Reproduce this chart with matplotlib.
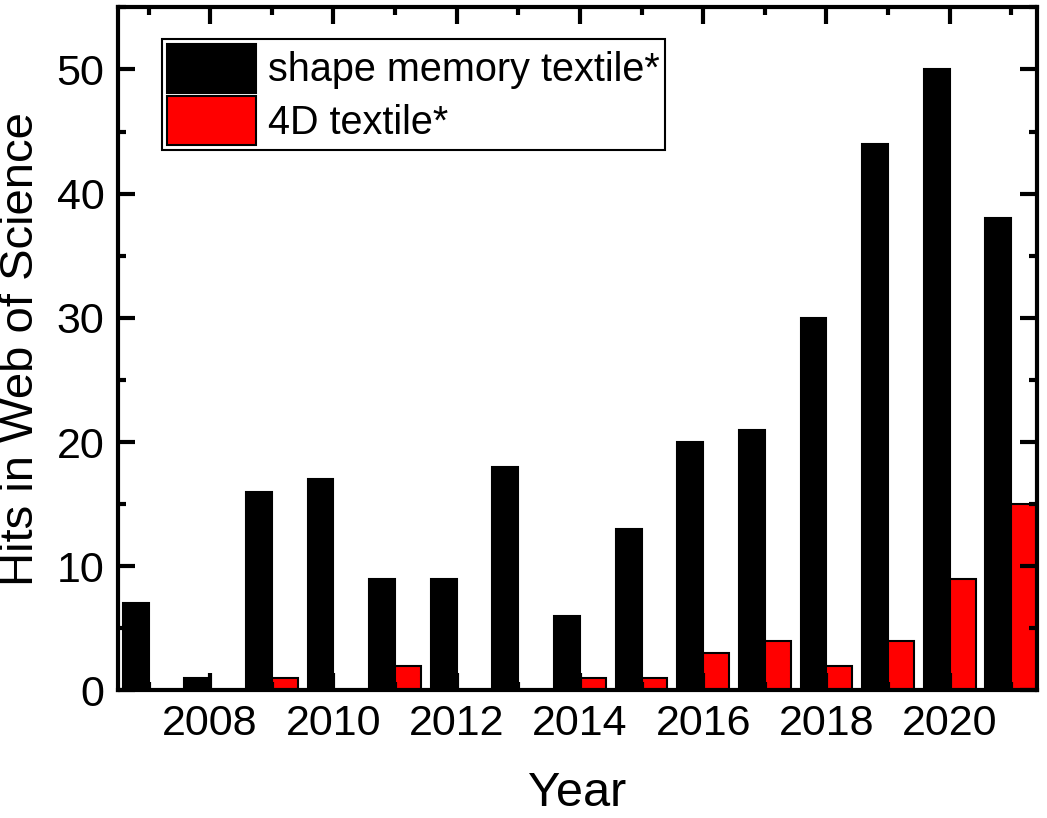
import numpy as np
import matplotlib.pyplot as plt
from matplotlib.ticker import MultipleLocator

plt.rcParams['font.family'] = ['Liberation Sans', 'DejaVu Sans']

years = [2007, 2008, 2009, 2010, 2011, 2012, 2013, 2014,
         2015, 2016, 2017, 2018, 2019, 2020, 2021]
shape_memory = [7, 1, 16, 17, 9, 9, 18, 6, 13, 20, 21, 30, 44, 50, 38]
textile_4d = [0, 0, 1, 0, 2, 0, 0, 1, 1, 3, 4, 2, 4, 9, 15]
labels = ['shape memory textile*', '4D textile*']

x = np.array(years)
width = 0.42

fig = plt.figure(figsize=(10.47, 8.18), dpi=100)
ax = fig.add_axes([0.113, 0.156, 0.877, 0.835])

ax.bar(x - width / 2, shape_memory, width, color='black', edgecolor='black',
       linewidth=1.5, label=labels[0])
ax.bar(x + width / 2, textile_4d, width, color='#ff0000', edgecolor='black',
       linewidth=1.5, label=labels[1])

ax.set_xlim(2006.51, 2021.41)
ax.set_ylim(0, 55)

ax.xaxis.set_major_locator(MultipleLocator(2))
ax.xaxis.set_minor_locator(MultipleLocator(1))
ax.yaxis.set_major_locator(MultipleLocator(10))
ax.yaxis.set_minor_locator(MultipleLocator(5))
ax.set_xticks(np.arange(2008, 2021, 2))

ax.tick_params(which='both', direction='in', top=True, right=True,
               width=3, labelsize=31, pad=10)
ax.tick_params(which='major', length=12)
ax.tick_params(which='minor', length=6)
for s in ax.spines.values():
    s.set_linewidth(3)

ax.set_xlabel('Year', fontsize=35, labelpad=19)
ax.set_ylabel('Hits in Web of Science', fontsize=34, labelpad=10)

leg = ax.legend(loc='upper left', bbox_to_anchor=(0.048, 0.953), fontsize=28.5,
                frameon=True, fancybox=False, edgecolor='black', framealpha=1,
                handlelength=2.25, handleheight=1.5, handletextpad=0.3,
                borderpad=0.12, borderaxespad=0, labelspacing=0.1)
leg.get_frame().set_linewidth(1.5)

fig.savefig('out.png', dpi=100)
